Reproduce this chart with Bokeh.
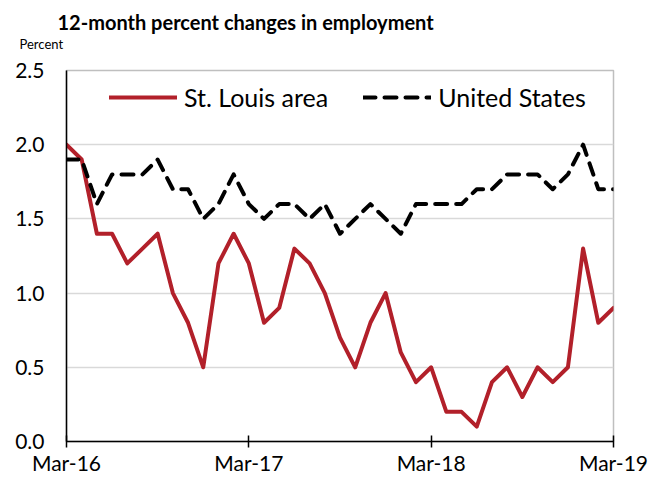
from bokeh.plotting import figure
from bokeh.models import Range1d, FixedTicker, Legend, LegendItem, Title
from bokeh.embed import file_html
from bokeh.resources import INLINE

# Monthly, Mar-16 .. Mar-19 (37 months)
month_index = list(range(37))
x_tick_positions = [0, 12, 24, 36]
x_tick_labels = ["Mar-16", "Mar-17", "Mar-18", "Mar-19"]
y_ticks = [0.0, 0.5, 1.0, 1.5, 2.0, 2.5]

st_louis = [2.0, 1.9, 1.4, 1.4, 1.2, 1.3, 1.4, 1.0, 0.8, 0.5, 1.2, 1.4,
            1.2, 0.8, 0.9, 1.3, 1.2, 1.0, 0.7, 0.5, 0.8, 1.0, 0.6, 0.4,
            0.5, 0.2, 0.2, 0.1, 0.4, 0.5, 0.3, 0.5, 0.4, 0.5, 1.3, 0.8,
            0.9]
united_states = [1.9, 1.9, 1.6, 1.8, 1.8, 1.8, 1.9, 1.7, 1.7, 1.5, 1.6, 1.8,
                 1.6, 1.5, 1.6, 1.6, 1.5, 1.6, 1.4, 1.5, 1.6, 1.5, 1.4, 1.6,
                 1.6, 1.6, 1.6, 1.7, 1.7, 1.8, 1.8, 1.8, 1.7, 1.8, 2.0, 1.7,
                 1.7]

FONT = "Lato"
W, H = 649, 477
LEFT, RIGHT, TOP, BOTTOM = 66, 36, 70, 34
FRAME_H = H - TOP - BOTTOM

p = figure(width=W, height=H, output_backend="svg", toolbar_location=None,
           x_range=Range1d(0, 36), y_range=Range1d(0, 2.5),
           min_border_left=LEFT, min_border_right=RIGHT,
           min_border_top=TOP, min_border_bottom=BOTTOM)
p.background_fill_color = "white"
p.border_fill_color = "white"
p.outline_line_color = "#BFBFBF"
p.outline_line_width = 1.5

p.xgrid.grid_line_color = None
p.ygrid.grid_line_color = "#D9D9D9"
p.ygrid.grid_line_width = 1.5
p.ygrid.ticker = FixedTicker(ticks=y_ticks)

# y axis
p.yaxis.ticker = FixedTicker(ticks=y_ticks)
p.yaxis.major_label_overrides = {t: f"{t:.1f}" for t in y_ticks}
p.yaxis.major_tick_out = 0
p.yaxis.major_tick_in = 0
p.yaxis.minor_tick_out = 0
p.yaxis.minor_tick_in = 0
p.yaxis.axis_line_color = "black"
p.yaxis.axis_line_width = 1.5
p.yaxis.major_label_text_font = FONT
p.yaxis.major_label_text_font_size = "21px"
p.yaxis.major_label_text_color = "black"
p.yaxis.major_label_standoff = 22

# x axis
p.xaxis.ticker = FixedTicker(ticks=x_tick_positions)
p.xaxis.major_label_overrides = dict(zip(x_tick_positions, x_tick_labels))
p.xaxis.major_tick_out = 6
p.xaxis.major_tick_in = 6
p.xaxis.major_tick_line_color = "black"
p.xaxis.major_tick_line_width = 1.5
p.xaxis.minor_tick_out = 0
p.xaxis.minor_tick_in = 0
p.xaxis.axis_line_color = "black"
p.xaxis.axis_line_width = 1.5
p.xaxis.major_label_text_font = FONT
p.xaxis.major_label_text_font_size = "21px"
p.xaxis.major_label_text_color = "black"
p.xaxis.major_label_standoff = 2

r_stl = p.line(month_index, st_louis, line_color="#B2202A", line_width=4,
               line_join="round", line_cap="round")
r_us = p.line(month_index, united_states, line_color="black", line_width=4,
              line_dash="12 9", line_join="round", line_cap="round")

legend = Legend(items=[LegendItem(label="St. Louis area", renderers=[r_stl]),
                       LegendItem(label="United States", renderers=[r_us])],
                orientation="horizontal", location=(43, FRAME_H - 29 - 15),
                border_line_color=None, background_fill_alpha=0,
                padding=0, margin=0, spacing=35,
                glyph_width=68, glyph_height=20, label_height=20,
                label_standoff=7,
                label_text_font=FONT, label_text_font_size="25px",
                label_text_color="black")
p.add_layout(legend, "center")

percent = Title(text="Percent\n ", text_font=FONT, text_font_size="13px",
                text_font_style="normal", text_color="black",
                align="left", offset=-47, standoff=2, vertical_align="top")
p.add_layout(percent, "above")
main_title = Title(text="12-month percent changes in employment",
                   text_font=FONT, text_font_style="bold", text_font_size="20px",
                   text_color="black", align="left", offset=-9, standoff=2)
p.add_layout(main_title, "above")

open("out.html", "w").write(file_html(p, INLINE))
